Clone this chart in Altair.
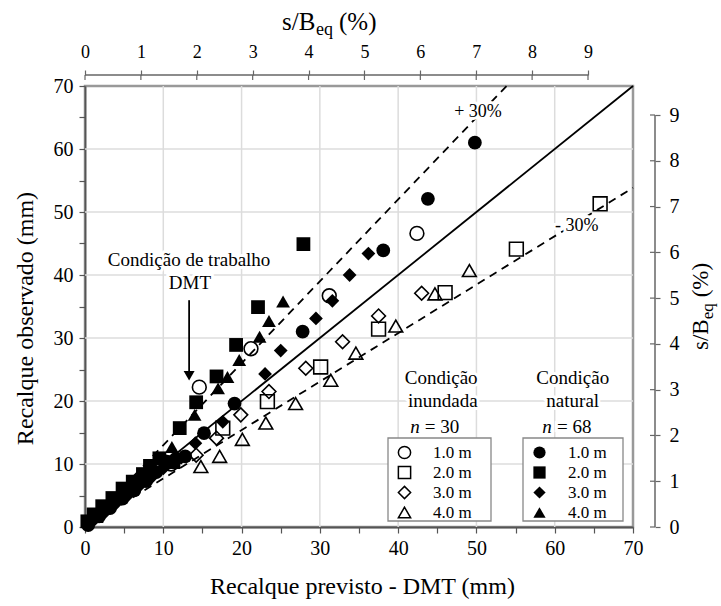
import altair as alt
import pandas as pd

FONT = "Liberation Serif"

# ---------------- data (mm) ----------------
sizes = ["1.0 m", "2.0 m", "3.0 m", "4.0 m"]
shapes = ["circle", "square", "diamond", "triangle-up"]

# Condição inundada (open symbols)
inund_10_x = [42.4, 31.2, 21.2, 14.6, 11.0]
inund_10_y = [46.6, 36.7, 28.3, 22.2, 10.0]
inund_20_x = [65.8, 55.1, 46.0, 37.5, 30.1, 23.3, 17.6]
inund_20_y = [51.3, 44.1, 37.2, 31.4, 25.4, 19.9, 15.7]
inund_30_x = [43.0, 37.5, 32.9, 28.2, 23.5, 19.9, 16.8, 14.2]
inund_30_y = [37.1, 33.5, 29.4, 25.2, 21.5, 17.8, 14.1, 11.4]
inund_40_x = [49.1, 44.7, 39.7, 34.6, 31.4, 26.9, 23.1, 20.1, 17.2, 14.8]
inund_40_y = [40.7, 37.0, 31.9, 27.6, 23.3, 19.6, 16.5, 13.9, 11.2, 9.6]

# Condição natural (filled symbols)
nat_10_x = [49.8, 43.8, 38.1, 27.8, 19.1, 15.2, 0.4, 1.8, 3.2, 4.8, 6.3, 7.8, 9.1, 10.3, 11.6, 12.8]
nat_10_y = [61.0, 52.1, 43.9, 31.0, 19.6, 14.9, 0.3, 1.7, 3.0, 4.5, 5.8, 7.3, 8.7, 10.4, 10.8, 11.2]
nat_20_x = [27.9, 22.1, 19.3, 16.8, 14.2, 12.1, 0.3, 1.1, 2.2, 3.5, 4.8, 6.1, 7.4, 8.3, 9.5, 11.3]
nat_20_y = [44.9, 34.9, 28.9, 23.9, 19.8, 15.7, 0.9, 2.0, 3.3, 4.6, 6.1, 7.2, 8.4, 9.7, 10.9, 10.3]
nat_30_x = [36.2, 33.8, 31.6, 29.5, 25.0, 23.0, 17.6, 14.1, 0.9, 2.6, 4.0, 5.6, 7.0, 8.6, 10.0, 12.3]
nat_30_y = [43.4, 40.0, 35.9, 33.1, 28.0, 24.3, 16.7, 13.3, 0.8, 2.4, 3.8, 5.2, 6.6, 8.0, 9.3, 11.0]
nat_40_x = [25.3, 23.5, 22.3, 19.7, 18.2, 17.0, 14.0, 11.1, 1.5, 3.0, 5.0, 6.8, 8.6, 10.0]
nat_40_y = [35.8, 32.7, 30.2, 26.5, 23.8, 22.0, 17.8, 12.7, 1.6, 3.5, 5.6, 7.4, 9.0, 10.2]

# reference lines (1:1, observed = 1.3 x predicted, observed = predicted / 1.3)
ref_x = [0, 70, 0, 53.85, 0, 70]
ref_y = [0, 70, 0, 70, 0, 53.85]
ref_id = ["1:1", "1:1", "+30", "+30", "-30", "-30"]

grid_vals = [10, 20, 30, 40, 50, 60]
main_ticks = list(range(0, 71, 5))
sb_ticks = list(range(0, 10))


def frame(xs, ys, size):
    return pd.DataFrame({"x": xs, "y": ys, "size": size})


open_df = pd.concat([
    frame(inund_10_x, inund_10_y, sizes[0]),
    frame(inund_20_x, inund_20_y, sizes[1]),
    frame(inund_30_x, inund_30_y, sizes[2]),
    frame(inund_40_x, inund_40_y, sizes[3]),
], ignore_index=True)
filled_df = pd.concat([
    frame(nat_10_x, nat_10_y, sizes[0]),
    frame(nat_20_x, nat_20_y, sizes[1]),
    frame(nat_30_x, nat_30_y, sizes[2]),
    frame(nat_40_x, nat_40_y, sizes[3]),
], ignore_index=True)
ref_df = pd.DataFrame({"x": ref_x, "y": ref_y, "line": ref_id})

W, H = 548, 441
xsc = alt.Scale(domain=[0, 70], nice=False, zero=False)
ysc = alt.Scale(domain=[0, 70], nice=False, zero=False)
AX = "#555"

x_axis = alt.Axis(
    values=main_ticks, labelExpr="datum.value % 10 === 0 ? datum.label : ''",
    grid=False, tickSize=6, tickColor=AX, tickWidth=1.2, domainColor=AX, domainWidth=1.8,
    labelFont=FONT, labelFontSize=20, labelColor="black", labelPadding=5, labelFlush=False,
    title="Recalque previsto - DMT (mm)", titleFont=FONT, titleFontSize=24,
    titleFontWeight="normal", titleColor="black", titleX=277, titleY=59,
    titleBaseline="middle", titleAlign="center")
y_axis = alt.Axis(
    values=main_ticks, labelExpr="datum.value % 10 === 0 ? datum.label : ''",
    grid=False, tickSize=6, tickColor=AX, tickWidth=1.2, domainColor=AX, domainWidth=1.8,
    labelFont=FONT, labelFontSize=20, labelColor="black", labelPadding=6,
    title="Recalque observado (mm)", titleFont=FONT, titleFontSize=24,
    titleFontWeight="normal", titleColor="black", titleX=-60, titleY=232,
    titleBaseline="middle", titleAlign="center", titleAngle=270)

X = lambda f: alt.X(f, scale=xsc, axis=x_axis)
Y = lambda f: alt.Y(f, scale=ysc, axis=y_axis)

grid_x = alt.Chart(pd.DataFrame({"x": grid_vals})).mark_rule(
    color="#dcdcdc", strokeWidth=1.5).encode(x=X("x:Q"))
grid_y = alt.Chart(pd.DataFrame({"y": grid_vals})).mark_rule(
    color="#dcdcdc", strokeWidth=1.5).encode(y=Y("y:Q"))

solid = alt.Chart(ref_df).transform_filter("datum.line === '1:1'").mark_line(
    color="black", strokeWidth=1.8).encode(x=X("x:Q"), y=Y("y:Q"))
dashed = alt.Chart(ref_df).transform_filter("datum.line !== '1:1'").mark_line(
    color="black", strokeWidth=1.8, strokeDash=[8, 6]).encode(
    x=X("x:Q"), y=Y("y:Q"), detail="line:N")

leg_common = dict(
    title=None, orient="none", legendY=352, padding=6,
    labelFont=FONT, labelFontSize=17, labelColor="black", labelOffset=20,
    symbolSize=150, symbolStrokeWidth=1.5, symbolStrokeColor="black",
    symbolOpacity=1, rowPadding=1, symbolOffset=2)

open_pts = alt.Chart(open_df).mark_point(
    filled=False, color="black", strokeWidth=1.6, size=190, opacity=1).encode(
    x=X("x:Q"), y=Y("y:Q"),
    shape=alt.Shape("size:N", scale=alt.Scale(domain=sizes, range=shapes),
                    legend=alt.Legend(legendX=303, **leg_common)))
filled_pts = alt.Chart(filled_df).mark_point(
    filled=True, color="black", size=190, opacity=1).encode(
    x=X("x:Q"), y=Y("y:Q"),
    shape=alt.Shape("size:N", scale=alt.Scale(domain=sizes, range=shapes),
                    legend=alt.Legend(legendX=438, symbolFillColor="black", **leg_common)))

# annotations (data coordinates)
ann_center = pd.DataFrame({
    "x": [13.3, 13.4, 50.2, 62.8, 45.5, 45.7, 62.3, 62.3],
    "y": [42.4, 38.7, 65.9, 47.8, 23.65, 20.0, 23.65, 20.0],
    "t": ["Condição de trabalho", "DMT", "+ 30%", "- 30%",
          "Condição", "inundada", "Condição", "natural"],
    "s": [19, 19, 18, 18, 19, 19, 19, 19],
})
ann_n = pd.DataFrame({"x": [42.15, 59.0], "y": [15.9, 15.9], "t": ["n", "n"]})
ann_eq = pd.DataFrame({"x": [43.4, 60.3], "y": [15.9, 15.9], "t": ["= 30", "= 68"]})


def text_layers(df, halo, **kw):
    extra = dict(stroke="white", strokeWidth=6, fill="white") if halo else dict(color="black")
    enc = dict(x=X("x:Q"), y=Y("y:Q"), text="t:N")
    if "s" in df.columns:
        enc["size"] = alt.Size("s:Q", scale=None, legend=None)
    return alt.Chart(df).mark_text(font=FONT, baseline="middle", **extra, **kw).encode(**enc)


halos = [
    text_layers(ann_center, True, align="center"),
    text_layers(ann_n, True, align="center", fontSize=19, fontStyle="italic"),
    text_layers(ann_eq, True, align="left", fontSize=19),
]
texts = [
    text_layers(ann_center, False, align="center"),
    text_layers(ann_n, False, align="center", fontSize=19, fontStyle="italic"),
    text_layers(ann_eq, False, align="left", fontSize=19),
]

arrow_df = pd.DataFrame({"x": [13.3], "y": [36.0], "y2": [24.6], "yh": [24.0]})
arrow_line = alt.Chart(arrow_df).mark_rule(color="black", strokeWidth=1.8).encode(
    x=X("x:Q"), y=Y("y:Q"), y2="y2:Q")
arrow_head = alt.Chart(arrow_df).mark_point(shape="triangle-down", filled=True, color="black",
                                            size=120, opacity=1).encode(
    x=X("x:Q"), y=Y("yh:Q"))

# legend frames (pixel positions relative to the plot area)
box_df = pd.DataFrame({"k": ["inund", "nat"]})
boxes = alt.layer(
    alt.Chart(box_df).transform_filter("datum.k === 'inund'").mark_rect(
        fill="white", stroke="#888", strokeWidth=1.3).encode(
        x=alt.value(303), x2=alt.value(406), y=alt.value(352), y2=alt.value(435)),
    alt.Chart(box_df).transform_filter("datum.k === 'nat'").mark_rect(
        fill="white", stroke="#888", strokeWidth=1.3).encode(
        x=alt.value(438), x2=alt.value(538), y=alt.value(352), y2=alt.value(435)),
)

main = alt.layer(grid_x, grid_y, solid, dashed, *halos, boxes, open_pts, filled_pts,
                 *texts, arrow_line, arrow_head).resolve_scale(shape="independent")

# secondary axis s/Beq (%) on top
TOP_OFF = 11
top_scale = alt.Scale(domain=[0, 9 * W / 503], nice=False, zero=False)
top_axis = alt.Axis(orient="top", offset=TOP_OFF, values=sb_ticks, domain=False, grid=False,
                    tickSize=5, tickColor="#666", tickWidth=1.2, labelFont=FONT,
                    labelFontSize=18, labelColor="black", labelPadding=9,
                    labelFlush=False, title=None)
top_line = alt.Chart(pd.DataFrame({"t": [0], "t2": [9]})).mark_rule(
    color="#666", strokeWidth=1.5).encode(
    x=alt.X("t:Q", scale=top_scale, axis=top_axis), x2="t2:Q", y=alt.value(-TOP_OFF))
top_ticks = alt.Chart(pd.DataFrame({"t": sb_ticks})).mark_rule(
    color="#666", strokeWidth=1.2).encode(
    x=alt.X("t:Q", scale=top_scale, axis=top_axis), y=alt.value(-TOP_OFF),
    y2=alt.value(-TOP_OFF + 5))
top = alt.layer(top_line, top_ticks)

# secondary axis s/Beq (%) on right
right_scale = alt.Scale(domain=[0, 9 * H / 412], nice=False, zero=False)
right_axis = alt.Axis(orient="right", offset=22, values=sb_ticks, domain=False, grid=False,
                      tickSize=5, tickColor="#666", tickWidth=1.2, labelFont=FONT,
                      labelFontSize=20, labelColor="black", labelPadding=9, title=None)
right_line = alt.Chart(pd.DataFrame({"t": [0], "t2": [9]})).mark_rule(
    color="#666", strokeWidth=1.5).encode(
    y=alt.Y("t:Q", scale=right_scale, axis=right_axis), y2="t2:Q", x=alt.value(W + 22))
right_ticks = alt.Chart(pd.DataFrame({"t": sb_ticks})).mark_rule(
    color="#666", strokeWidth=1.2).encode(
    y=alt.Y("t:Q", scale=right_scale, axis=right_axis), x=alt.value(W + 17), x2=alt.value(W + 22))
right = alt.layer(right_line, right_ticks)


# axis titles with subscript (pixel positions relative to the plot area)
def piece(text, x, y, size, angle=0):
    return alt.Chart(pd.DataFrame({"t": [text]})).mark_text(
        font=FONT, fontSize=size, color="black", align="left", baseline="alphabetic",
        angle=angle).encode(text="t:N", x=alt.value(x), y=alt.value(y))


titles = alt.layer(
    piece("s/B", 197, -56, 25),
    piece("eq", 197 + 34, -51, 18),
    piece("(%)", 197 + 34 + 17 + 6, -56, 25),
    piece("s/B", 623, 264, 23, 270),
    piece("eq", 628, 264 - 30.7, 17, 270),
    piece("(%)", 623, 264 - 30.7 - 16 - 6, 23, 270),
)

chart = alt.layer(main, top, right, titles).resolve_scale(
    x="independent", y="independent").properties(
    width=W, height=H,
    padding={"left": 85, "top": 86, "right": 88, "bottom": 79},
    autosize=alt.AutoSizeParams(type="none"),
    background="white",
).configure_view(stroke="#999", strokeWidth=2.5)

chart.save("out.html", embed_options={"renderer": "svg", "actions": False})
